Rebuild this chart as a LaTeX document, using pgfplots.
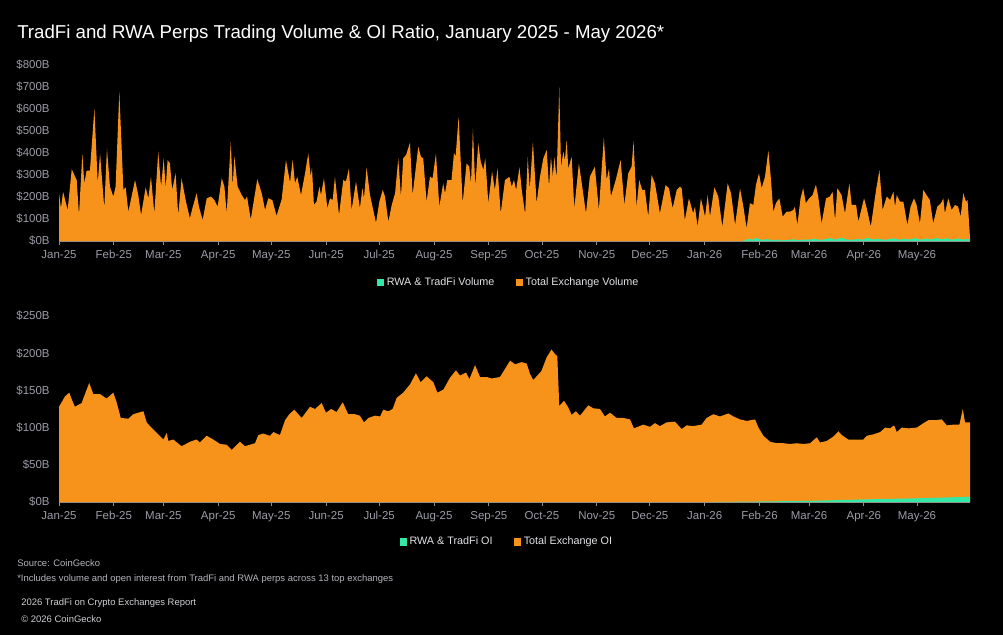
\documentclass[border=0pt]{standalone}
\usepackage{fontspec}
\setmainfont{Liberation Sans}
\usepackage{pgfplots}
\pgfplotsset{compat=1.18}
\definecolor{btc}{HTML}{F7931A}
\definecolor{mint}{HTML}{34E8A6}
\definecolor{tickgrey}{HTML}{9C9CA8}
\definecolor{axisgrey}{HTML}{8C8C96}
\definecolor{legtext}{HTML}{E2E2E6}
\definecolor{foot}{HTML}{B4B4BC}
\definecolor{foot2}{HTML}{CFCFD4}

\pgfplotsset{
  chart/.style={
    scale only axis,
    width=683.25pt,
    xmin=0, xmax=515,
    axis x line*=bottom, axis y line*=left,
    x axis line style={draw=axisgrey, line width=0.7pt, -},
    y axis line style={draw=none},
    ytick style={draw=none},
    xtick style={draw=axisgrey, line width=0.6pt},
    xtick align=outside, ytick align=inside,
    major tick length=3pt,
    xtick={0,31,59,90,120,151,181,212,243,273,304,334,365,396,424,455,485},
    xticklabels={Jan-25,Feb-25,Mar-25,Apr-25,May-25,Jun-25,Jul-25,Aug-25,Sep-25,Oct-25,Nov-25,Dec-25,Jan-26,Feb-26,Mar-26,Apr-26,May-26},
    tick label style={font=\fontsize{8.6pt}{10pt}\selectfont, text=tickgrey},
    xticklabel style={yshift=-0.5pt},
    yticklabel style={xshift=-3.5pt},
    legend columns=2,
    legend style={draw=none, fill=none, text=legtext, font=\fontsize{8.1pt}{10pt}\selectfont,
      /tikz/every even column/.append style={column sep=14pt}},
    legend cell align=left,
    legend image code/.code={\draw[#1,draw=none] (0pt,-2.7pt) rectangle (5.4pt,2.7pt);},
    clip=false,
  }
}

\begin{document}
\begin{tikzpicture}
\fill[black] (0,0) rectangle (752.25pt,-476.25pt);

\node[anchor=base west, inner sep=0pt, text=white, font=\fontsize{14pt}{16pt}\selectfont] at (12.75pt,-28.7pt)
  {TradFi and RWA Perps Trading Volume \& OI Ratio, January 2025 - May 2026*};

% ---------------- Top: trading volume ----------------
\begin{axis}[chart,
  at={(44.25pt,-180.75pt)}, anchor=south west,
  height=132pt,
  ymin=0, ymax=800,
  ytick={0,100,200,300,400,500,600,700,800},
  yticklabels={\$0B,\$100B,\$200B,\$300B,\$400B,\$500B,\$600B,\$700B,\$800B},
  legend style={at={(0.494,-0.235)}, anchor=center},
]
\addlegendimage{fill=mint}
\addlegendentry{RWA \& TradFi Volume}
\addlegendimage{fill=btc}
\addlegendentry{Total Exchange Volume}

\addplot[fill=btc, draw=none, forget plot] coordinates {
(0,217) (1.1,149) (2.3,224) (4.9,141) (7.2,326) (10,277) (11.3,118) (13.2,398) (14.3,262) (15.6,320)
(17.5,320) (20,603) (21.9,262) (23.2,398) (25.6,149) (27.1,421) (28.8,247) (30.7,202) (32,247) (34.1,679)
(36.4,232) (37.7,244) (39.2,133) (43,277) (44.8,209) (46.4,118) (49,244) (50.5,194) (52,292) (53.9,126)
(56.1,406) (57.7,247) (59.2,376) (60.3,240) (61.4,368) (62.7,353) (64,232) (65.9,308) (67.4,118) (69.3,285)
(71.6,186) (74,103) (75.4,149) (77.8,217) (79.1,156) (81.2,95) (83.5,194) (85.9,202) (87.8,186) (89.7,156)
(92,285) (93.5,247) (94.8,126) (97.1,452) (98.2,247) (99.1,386) (101,247) (103.3,209) (105.1,186) (106.3,202)
(108.4,98) (112.1,281) (114.6,217) (116.5,141) (118.3,194) (120.6,186) (123,114) (125.9,190) (128.3,368) (130.6,266)
(132.1,370) (133.4,262) (134.7,292) (136.8,209) (139.1,308) (140.9,398) (142.3,292) (143,335) (144.1,164) (145.6,179)
(147.2,247) (148.1,209) (149.8,285) (151.7,149) (153.2,194) (154.7,186) (156,292) (158.3,118) (160.7,277) (162.2,270)
(163.9,330) (165.4,141) (167.9,270) (170.1,149) (171.5,240) (172.4,194) (173.9,335) (175.8,209) (179.2,83) (181.1,179)
(183,232) (184.3,202) (186.2,88) (188.1,164) (190,217) (191.8,376) (193.3,202) (194.6,376) (196.2,391) (198.4,447)
(199.9,209) (203.1,429) (204.6,383) (205.9,376) (207.8,179) (209.7,292) (211.2,285) (213.1,398) (215,156) (217.2,262)
(218.2,217) (219.5,277) (221,277) (221.9,277) (223.3,401) (224.2,383) (225.9,565) (228.2,172) (230.4,353) (231.9,338)
(232.9,262) (234,512) (235.3,247) (237,444) (238.4,361) (239.9,323) (241,376) (242.7,172) (244.8,316) (246.4,232)
(247.9,330) (249.7,126) (252.1,277) (254.6,292) (255.9,247) (257.2,277) (258.4,232) (260.3,335) (261.6,232) (263.5,122)
(265,383) (266.1,232) (267.9,452) (270,172) (271.9,292) (273.8,376) (275.7,414) (277,247) (278.1,383) (279.2,292)
(280,383) (281.3,285) (282.8,698) (283.8,338) (285.1,406) (286,368) (287,459) (287.9,330) (289.8,383) (291.3,149)
(293.9,353) (295.8,247) (297.9,126) (300.1,292) (302.9,338) (305.2,141) (308,471) (309.6,277) (310.9,330) (312,202)
(314.7,277) (317.5,368) (319.6,164) (321.8,308) (323.7,338) (324.8,455) (326.5,156) (328,277) (329.7,232) (331.2,232)
(333.1,111) (335,300) (336.9,262) (339.7,126) (342.9,254) (344.8,240) (346.9,149) (349.2,232) (351,247) (352,240)
(353.8,95) (356.1,194) (358.5,126) (359.5,156) (361,65) (362.9,194) (365.2,111) (366.7,209) (368,111) (370.5,244)
(372.7,202) (375,65) (378,262) (379.9,217) (382.2,73) (385,239) (386.9,156) (388.7,58) (390.6,172) (392.5,164)
(394,255) (395.7,308) (397.2,240) (399.1,292) (401,411) (402.5,277) (403.8,133) (405.3,172) (407.2,194) (409.1,111)
(411.3,133) (413.2,133) (415.1,141) (416,156) (417.4,73) (419.2,194) (420.7,240) (422.2,172) (424.1,194) (426,209)
(427.9,255) (429.2,202) (431.1,80) (433.6,194) (435.8,202) (437.3,224) (438.7,95) (440,240) (442.4,209) (444.3,126)
(446.8,262) (448.1,164) (450.6,164) (451.9,88) (455.1,194) (456.6,149) (458.9,65) (461.9,232) (463.8,323) (465.6,141)
(467.9,202) (469.8,186) (471.7,224) (472.6,156) (473.6,209) (475.4,179) (477.3,179) (479.6,73) (481.4,156) (483.3,194)
(484.8,164) (486.7,80) (488.6,232) (490.4,209) (492.3,186) (494.2,80) (496.5,156) (498.6,172) (499.9,194) (500.8,126)
(502.7,194) (504.6,141) (506.5,164) (508.3,156) (509.7,111) (511.2,217) (512.7,179) (513.6,186) (515,15)
} \closedcycle;

\addplot[fill=mint, draw=none, forget plot] coordinates {
(386,0) (388,4) (390,11) (392,6) (394,14) (396,8) (398,5) (400,9) (403,4) (406,6) (409,3) (412,5) (415,8) (418,4)
(421,7) (424,6) (427,10) (430,5) (433,8) (436,13) (439,6) (442,15) (445,7) (448,5) (451,9) (454,6) (457,14) (460,7)
(463,10) (466,6) (469,8) (472,12) (475,6) (478,10) (481,7) (484,13) (487,6) (490,11) (493,7) (496,13) (499,8) (502,12)
(505,6) (508,11) (511,7) (514,10) (515,0)
} \closedcycle;
\end{axis}

% ---------------- Bottom: open interest ----------------
\begin{axis}[chart,
  at={(44.25pt,-376.5pt)}, anchor=south west,
  height=139.5pt,
  ymin=0, ymax=250,
  ytick={0,50,100,150,200,250},
  yticklabels={\$0B,\$50B,\$100B,\$150B,\$200B,\$250B},
  legend style={at={(0.492,-0.215)}, anchor=center},
]
\addlegendimage{fill=mint}
\addlegendentry{RWA \& TradFi OI}
\addlegendimage{fill=btc}
\addlegendentry{Total Exchange OI}

\addplot[fill=btc, draw=none, forget plot] coordinates {
(0,128) (1.5,134) (3.4,142) (5.8,147) (7.2,138) (9,128) (12.8,133) (15.3,149) (17.1,160) (19.4,145)
(23.2,145) (26.9,139) (30.7,147) (32.6,134) (34.9,113) (39.2,112) (42,118) (47.7,122) (49.6,107) (51.4,102)
(55.2,93) (59,84) (60.9,93) (61.8,82) (64.6,84) (69.3,75) (74.1,81) (77.8,84) (79.7,80) (83.5,89)
(87.2,84) (91,78) (94.8,77) (97.6,70) (102.3,81) (105.1,75) (110.8,79) (112.7,90) (115.5,92) (119.3,89)
(121.2,94) (124.9,90) (127.8,110) (130.2,118) (133,124) (137.2,113) (141.9,128) (144.7,125) (148.5,133) (150.9,120)
(153.8,125) (156.9,121) (160.4,134) (163.5,118) (167.3,118) (170.1,116) (172.4,107) (174.9,113) (178.6,116) (181.5,115)
(183.3,124) (186.2,122) (188.6,125) (190.9,140) (194.6,147) (198.4,158) (201.8,173) (204.4,161) (207.8,169) (211.6,161)
(213.9,147) (217.3,151) (221,167) (224.4,177) (226.7,170) (230.1,174) (232,165) (235.2,184) (238,168) (241.8,168)
(244.6,166) (249.3,168) (255,190) (257.8,185) (261.6,188) (264.4,186) (266.3,172) (268.1,164) (270.4,170) (272.7,176)
(275.6,194) (278.4,205) (280.3,199) (281.7,196) (282.8,129) (285.5,136) (287.9,127) (289.8,117) (292.2,122) (294.5,116)
(299.2,130) (302,126) (305.8,125) (308.6,115) (311.5,120) (315.2,113) (319,113) (322.8,111) (325,99) (330.3,104)
(334.1,101) (336.9,106) (339.7,102) (343.5,107) (348.2,108) (352,98) (354.8,103) (358.5,102) (363.3,104) (366.1,113)
(369.9,118) (373.7,115) (378.4,119) (381.2,115) (385,111) (388.8,109) (393.5,111) (395.4,100) (398.2,89) (402,81)
(405.8,79) (409.5,79) (413.3,78) (417.1,79) (420.8,78) (424.6,79) (428.4,87) (430.2,80) (434,82) (437.8,88)
(440.6,95) (442.5,90) (446.2,84) (451,84) (454.7,84) (456.6,89) (460.4,91) (464.2,94) (467,100) (469.8,99)
(472.1,103) (473.6,94) (476.4,100) (480.2,99) (484.9,100) (488.7,106) (491.5,110) (495.3,110) (499,111) (501.9,103)
(505.6,104) (509,104) (510.9,125) (512.2,107) (515,107)
} \closedcycle;

\addplot[fill=mint, draw=none, forget plot] coordinates {
(370,0) (396,0.7) (424,1.5) (440,2.5) (455,3.5) (470,4.2) (485,5) (500,6) (514,7) (515,7)
} \closedcycle;
\end{axis}

\node[anchor=west, inner sep=0pt, text=foot, font=\fontsize{7.1pt}{9pt}\selectfont] at (12.75pt,-422.25pt) {Source: CoinGecko};
\node[anchor=west, inner sep=0pt, text=foot, font=\fontsize{7.1pt}{9pt}\selectfont] at (12.75pt,-434.25pt) {*Includes volume and open interest from TradFi and RWA perps across 13 top exchanges};
\node[anchor=west, inner sep=0pt, text=foot2, font=\fontsize{7.1pt}{9pt}\selectfont] at (15.75pt,-452.25pt) {2026 TradFi on Crypto Exchanges Report};
\node[anchor=west, inner sep=0pt, text=foot2, font=\fontsize{7.1pt}{9pt}\selectfont] at (15.75pt,-464.25pt) {\textcopyright{} 2026 CoinGecko};

\pgfresetboundingbox
\useasboundingbox (0,0) rectangle (752.25pt,-476.25pt);
\end{tikzpicture}
\end{document}
